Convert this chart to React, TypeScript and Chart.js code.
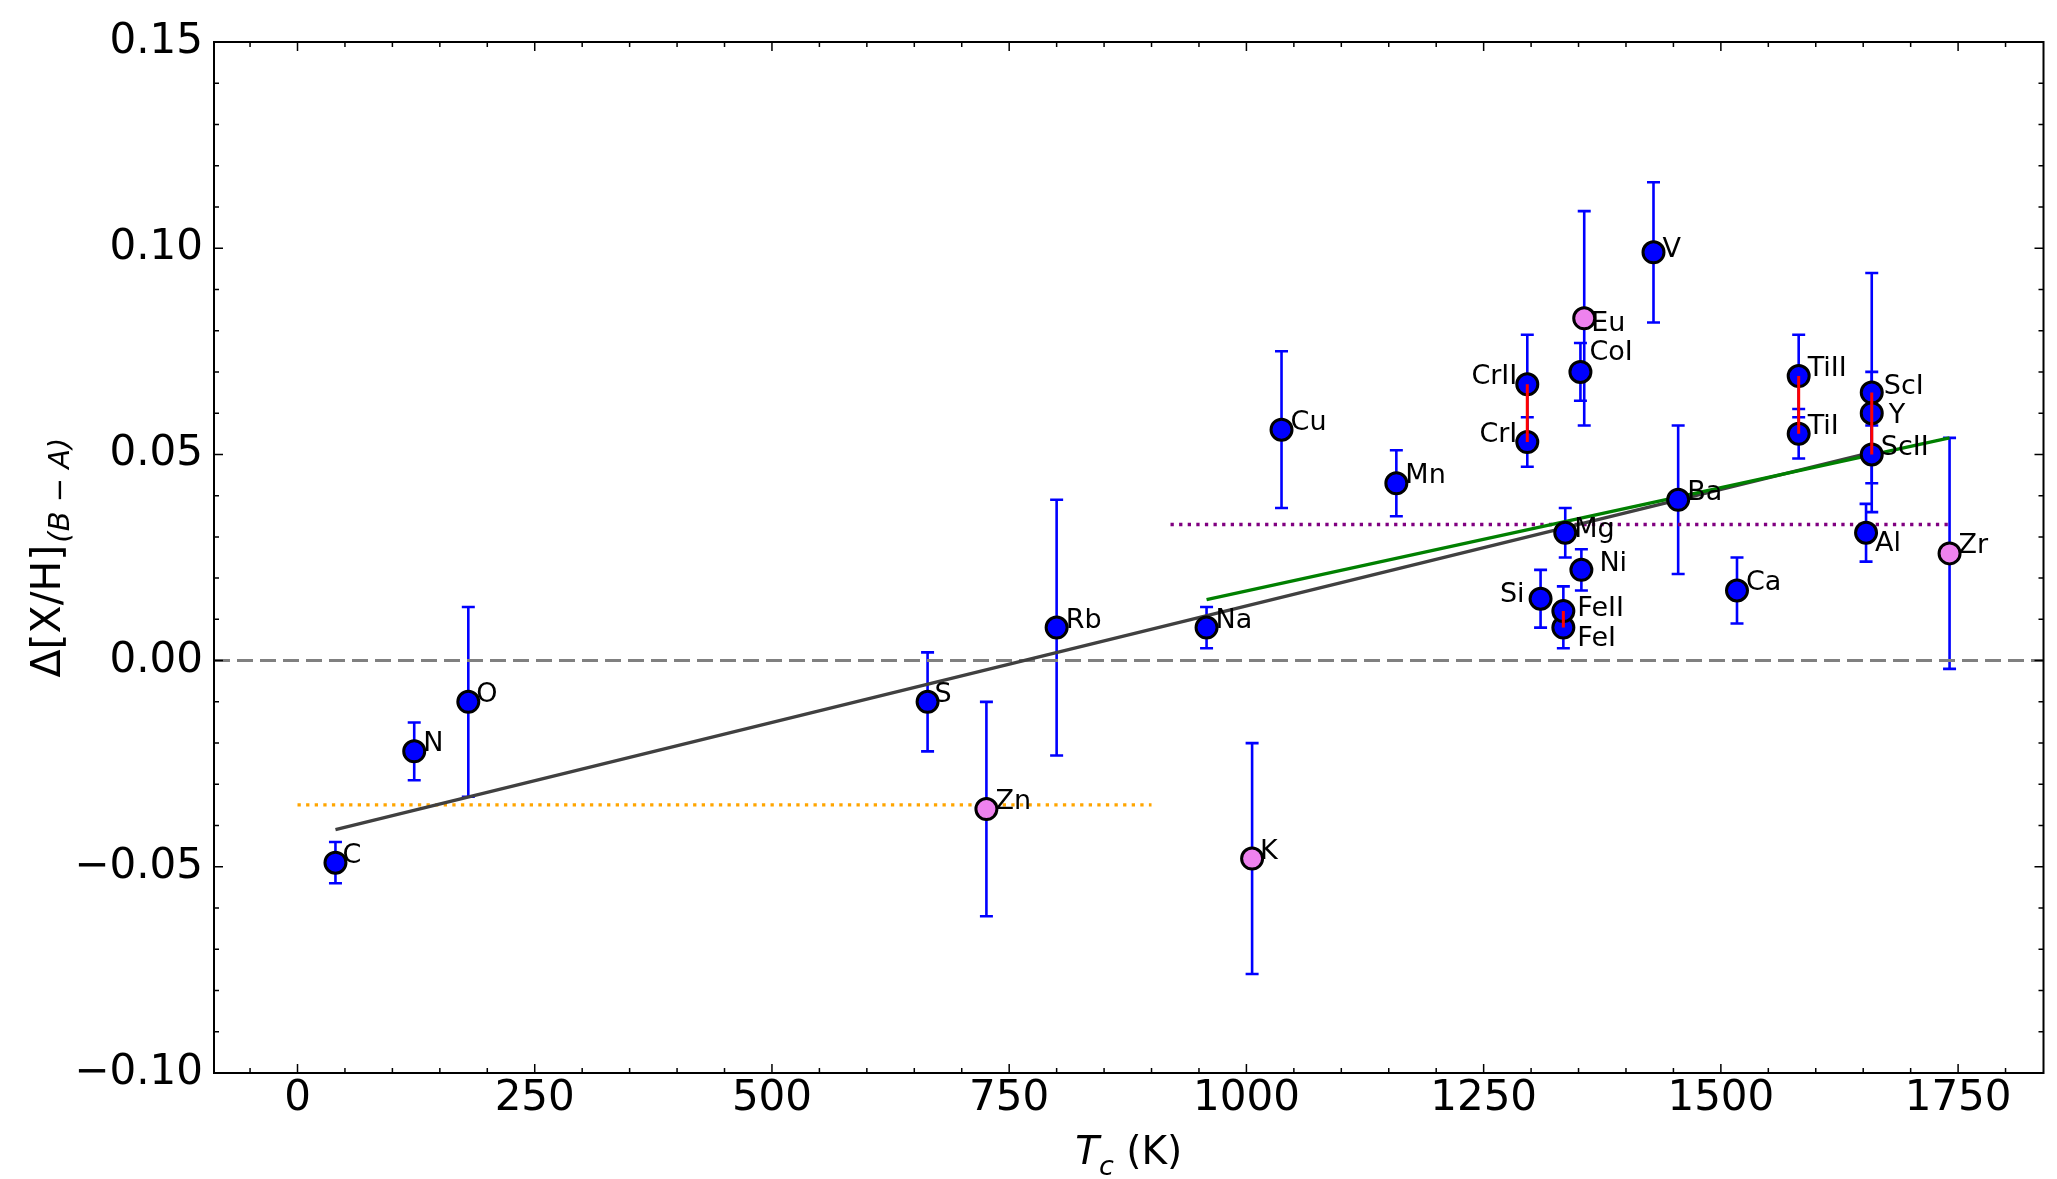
import React, { useEffect, useRef } from 'react';
import { Chart, registerables } from 'chart.js';

Chart.register(...registerables);

// ---------- data ----------
const elements = ['C', 'N', 'O', 'S', 'Zn', 'Rb', 'Na', 'K', 'Cu', 'Mn', 'CrI', 'CrII', 'Si', 'FeI', 'FeII', 'Mg', 'CoI', 'Ni', 'Eu', 'V', 'Ba', 'Ca', 'TiI', 'TiII', 'Al', 'ScI', 'Y', 'ScII', 'Zr'];
const condTemps = [40, 123, 180, 664, 726, 800, 958, 1006, 1037, 1158, 1296, 1296, 1310, 1334, 1334, 1336, 1352, 1353, 1356, 1429, 1455, 1517, 1582, 1582, 1653, 1659, 1659, 1659, 1741];
const abundances = [-0.049, -0.022, -0.010, -0.010, -0.036, 0.008, 0.008, -0.048, 0.056, 0.043, 0.053, 0.067, 0.015, 0.008, 0.012, 0.031, 0.070, 0.022, 0.083, 0.099, 0.039, 0.017, 0.055, 0.069, 0.031, 0.065, 0.060, 0.050, 0.026];
const errors = [0.005, 0.007, 0.023, 0.012, 0.026, 0.031, 0.005, 0.028, 0.019, 0.008, 0.006, 0.012, 0.007, 0.005, 0.006, 0.006, 0.007, 0.005, 0.026, 0.017, 0.018, 0.008, 0.006, 0.010, 0.007, 0.029, 0.010, 0.007, 0.028];
const pinkElements = ['Zn', 'K', 'Eu', 'Zr'];
const ionPairs = [['CrI', 'CrII'], ['FeI', 'FeII'], ['TiI', 'TiII'], ['ScI', 'ScII']];

const fitAllX = [40, 1659];
const fitAllY = [-0.041, 0.0505];
const fitHighX = [958, 1741];
const fitHighY = [0.0148, 0.054];
const meanHighX = [920, 1741];
const meanHighY = [0.033, 0.033];
const meanLowX = [0, 900];
const meanLowY = [-0.035, -0.035];

const xTicks = [0, 250, 500, 750, 1000, 1250, 1500, 1750];
const yTicks = [-0.10, -0.05, 0.00, 0.05, 0.10, 0.15];
const xRange = [-88, 1840];
const yRange = [-0.10, 0.15];

// label placement (pixel offsets from marker centre; 'l' = text to the left)
const labelOffsets: Record<string, [number, number, 'l' | 'r']> = {
  C: [7, 0, 'r'], N: [9, 0, 'r'], O: [8, 0, 'r'], S: [7, 0, 'r'], K: [8, 0, 'r'],
  Eu: [7, 13, 'r'], CoI: [9, -12, 'r'], Ni: [18, 1, 'r'], FeII: [14, 5, 'r'], FeI: [14, 18, 'r'],
  Y: [17, 10, 'r'], ScII: [9, 1, 'r'], ScI: [12, 1, 'r'], Al: [9, 18, 'r'], Mg: [9, 4, 'r'],
  V: [9, 5, 'r'], CrII: [-10, 0, 'l'], CrI: [-10, 0, 'l'], Si: [-16, 3, 'l'],
};

const FONT = '"DejaVu Sans", Verdana, sans-serif';

const pts = (xs: number[], ys: number[]) => xs.map((x, i) => ({ x, y: ys[i] }));
const idx = (el: string) => elements.indexOf(el);

const errorBars = {
  id: 'errorBars',
  beforeDatasetsDraw(chart: any) {
    const { ctx, scales: { x, y } } = chart;
    ctx.save();
    ctx.strokeStyle = '#0000ff';
    ctx.lineWidth = 2.6;
    elements.forEach((_, i) => {
      const px = x.getPixelForValue(condTemps[i]);
      const top = y.getPixelForValue(abundances[i] + errors[i]);
      const bot = y.getPixelForValue(abundances[i] - errors[i]);
      ctx.beginPath();
      ctx.moveTo(px, top); ctx.lineTo(px, bot);
      ctx.moveTo(px - 6.5, top); ctx.lineTo(px + 6.5, top);
      ctx.moveTo(px - 6.5, bot); ctx.lineTo(px + 6.5, bot);
      ctx.stroke();
    });
    // zero reference line
    const y0 = y.getPixelForValue(0);
    ctx.strokeStyle = '#808080';
    ctx.lineWidth = 3;
    ctx.setLineDash([16, 7]);
    ctx.beginPath();
    ctx.moveTo(chart.chartArea.left, y0);
    ctx.lineTo(chart.chartArea.right, y0);
    ctx.stroke();
    ctx.restore();
  },
};

const labelsPlugin = {
  id: 'elementLabels',
  afterDatasetsDraw(chart: any) {
    const { ctx, scales: { x, y } } = chart;
    ctx.save();
    ctx.font = `27px ${FONT}`;
    ctx.fillStyle = '#000';
    ctx.textBaseline = 'alphabetic';
    elements.forEach((el, i) => {
      const px = x.getPixelForValue(condTemps[i]);
      const py = y.getPixelForValue(abundances[i]);
      const [dx, dy, side] = labelOffsets[el] ?? [9, 0, 'r'];
      ctx.textAlign = side === 'l' ? 'right' : 'left';
      ctx.fillText(el, px + dx, py + dy);
    });
    ctx.restore();
  },
};

const framePlugin = {
  id: 'frame',
  afterDraw(chart: any) {
    const { ctx, chartArea: a, scales: { x, y } } = chart;
    ctx.save();
    ctx.strokeStyle = '#000';
    ctx.lineWidth = 1.5;
    ctx.beginPath();
    const minorX: number[] = [];
    for (let v = -50; v <= 1800; v += 50) minorX.push(v);
    minorX.forEach((v) => {
      const px = x.getPixelForValue(v);
      if (px < a.left || px > a.right) return;
      const len = xTicks.includes(v) ? 9 : 5;
      ctx.moveTo(px, a.bottom); ctx.lineTo(px, a.bottom - len);
      ctx.moveTo(px, a.top); ctx.lineTo(px, a.top + len);
    });
    for (let k = -10; k <= 15; k++) {
      const v = k / 100;
      const py = y.getPixelForValue(v);
      const len = k % 5 === 0 ? 9 : 5;
      ctx.moveTo(a.left, py); ctx.lineTo(a.left + len, py);
      ctx.moveTo(a.right, py); ctx.lineTo(a.right - len, py);
    }
    ctx.stroke();
    ctx.lineWidth = 2;
    ctx.strokeRect(a.left, a.top, a.right - a.left, a.bottom - a.top);

    // x title: T_c (K)
    ctx.fillStyle = '#000';
    ctx.textBaseline = 'alphabetic';
    ctx.textAlign = 'left';
    const bigI = `italic 39px ${FONT}`;
    const smallI = `italic 27px ${FONT}`;
    const big = `39px ${FONT}`;
    ctx.font = bigI; const wT = ctx.measureText('T').width;
    ctx.font = smallI; const wc = ctx.measureText('c').width;
    ctx.font = big; const wK = ctx.measureText(' (K)').width;
    const total = wT + wc + wK;
    let sx = (a.left + a.right) / 2 - total / 2;
    const by = 1164;
    ctx.font = bigI; ctx.fillText('T', sx, by); sx += wT;
    ctx.font = smallI; ctx.fillText('c', sx, by + 11); sx += wc;
    ctx.font = big; ctx.fillText(' (K)', sx, by);

    // y title: Δ[X/H]_(B−A)
    ctx.save();
    ctx.translate(60, (a.top + a.bottom) / 2);
    ctx.rotate(-Math.PI / 2);
    const mainF = `41px ${FONT}`;
    const subF = `italic 29px ${FONT}`;
    ctx.font = mainF; const wm = ctx.measureText('Δ[X/H]').width;
    ctx.font = subF; const ws = ctx.measureText('(B − A)').width;
    let tx = -(wm + ws + 2) / 2;
    ctx.font = mainF; ctx.fillText('Δ[X/H]', tx, 0); tx += wm + 2;
    ctx.font = subF; ctx.fillText('(B − A)', tx, 9);
    ctx.restore();
    ctx.restore();
  },
};

export default function App() {
  const ref = useRef<HTMLCanvasElement>(null);
  useEffect(() => {
    if (!ref.current) return;
    const blueIdx = elements.map((_, i) => i).filter((i) => !pinkElements.includes(elements[i]));
    const pinkIdx = elements.map((_, i) => i).filter((i) => pinkElements.includes(elements[i]));
    const pointStyle = { pointRadius: 10.5, pointHoverRadius: 10.5, pointBorderWidth: 3, pointBorderColor: '#000', showLine: false };
    const lineStyle = { pointRadius: 0, showLine: true, fill: false };
    const datasets: any[] = [
      ...ionPairs.map(([a, b]) => ({
        data: [{ x: condTemps[idx(a)], y: abundances[idx(a)] }, { x: condTemps[idx(b)], y: abundances[idx(b)] }],
        ...lineStyle, borderColor: '#ff0000', borderWidth: 3, order: 0,
      })),
      { data: blueIdx.map((i) => ({ x: condTemps[i], y: abundances[i] })), ...pointStyle, pointBackgroundColor: '#0000ff', order: 1 },
      { data: pinkIdx.map((i) => ({ x: condTemps[i], y: abundances[i] })), ...pointStyle, pointBackgroundColor: '#ee82ee', order: 1 },
      { data: pts(fitHighX, fitHighY), ...lineStyle, borderColor: '#008000', borderWidth: 3.3, order: 2 },
      { data: pts(fitAllX, fitAllY), ...lineStyle, borderColor: '#404040', borderWidth: 3.3, order: 3 },
      { data: pts(meanHighX, meanHighY), ...lineStyle, borderColor: '#800080', borderWidth: 3.3, borderDash: [3.3, 5.3], order: 4 },
      { data: pts(meanLowX, meanLowY), ...lineStyle, borderColor: '#ffa500', borderWidth: 3.3, borderDash: [3.3, 5.3], order: 4 },
    ];
    const chart = new Chart(ref.current, {
      type: 'scatter',
      data: { datasets },
      options: {
        animation: false,
        responsive: false,
        devicePixelRatio: 1,
        layout: { padding: { left: 0, top: 42, right: 8, bottom: 0 } },
        plugins: { legend: { display: false }, tooltip: { enabled: false } },
        scales: {
          x: {
            type: 'linear', min: xRange[0], max: xRange[1],
            grid: { display: false, drawTicks: false },
            border: { display: false },
            afterBuildTicks: (s: any) => { s.ticks = xTicks.map((v) => ({ value: v })); },
            afterFit: (s: any) => { s.height = 106; },
            ticks: {
              autoSkip: false, maxRotation: 0, padding: 1, color: '#000', font: { family: FONT, size: 42 },
              callback: (v: any) => String(Math.round(Number(v))),
            },
          },
          y: {
            type: 'linear', min: yRange[0], max: yRange[1],
            grid: { display: false, drawTicks: false },
            border: { display: false },
            afterBuildTicks: (s: any) => { s.ticks = yTicks.map((v) => ({ value: v })); },
            afterFit: (s: any) => { s.width = 214; },
            ticks: {
              padding: 11, color: '#000', font: { family: FONT, size: 42 },
              callback: (v: any) => (v < -1e-9 ? '\u2212' : '') + Math.abs(Number(v)).toFixed(2),
            },
          },
        },
      },
      plugins: [errorBars, labelsPlugin, framePlugin],
    } as any);
    return () => chart.destroy();
  }, []);
  return (
    <div style={{ position: 'fixed', left: 0, top: 0, width: 2057, height: 1179, background: '#fff' }}>
      <canvas ref={ref} width={2057} height={1179} style={{ display: 'block' }} />
    </div>
  );
}
